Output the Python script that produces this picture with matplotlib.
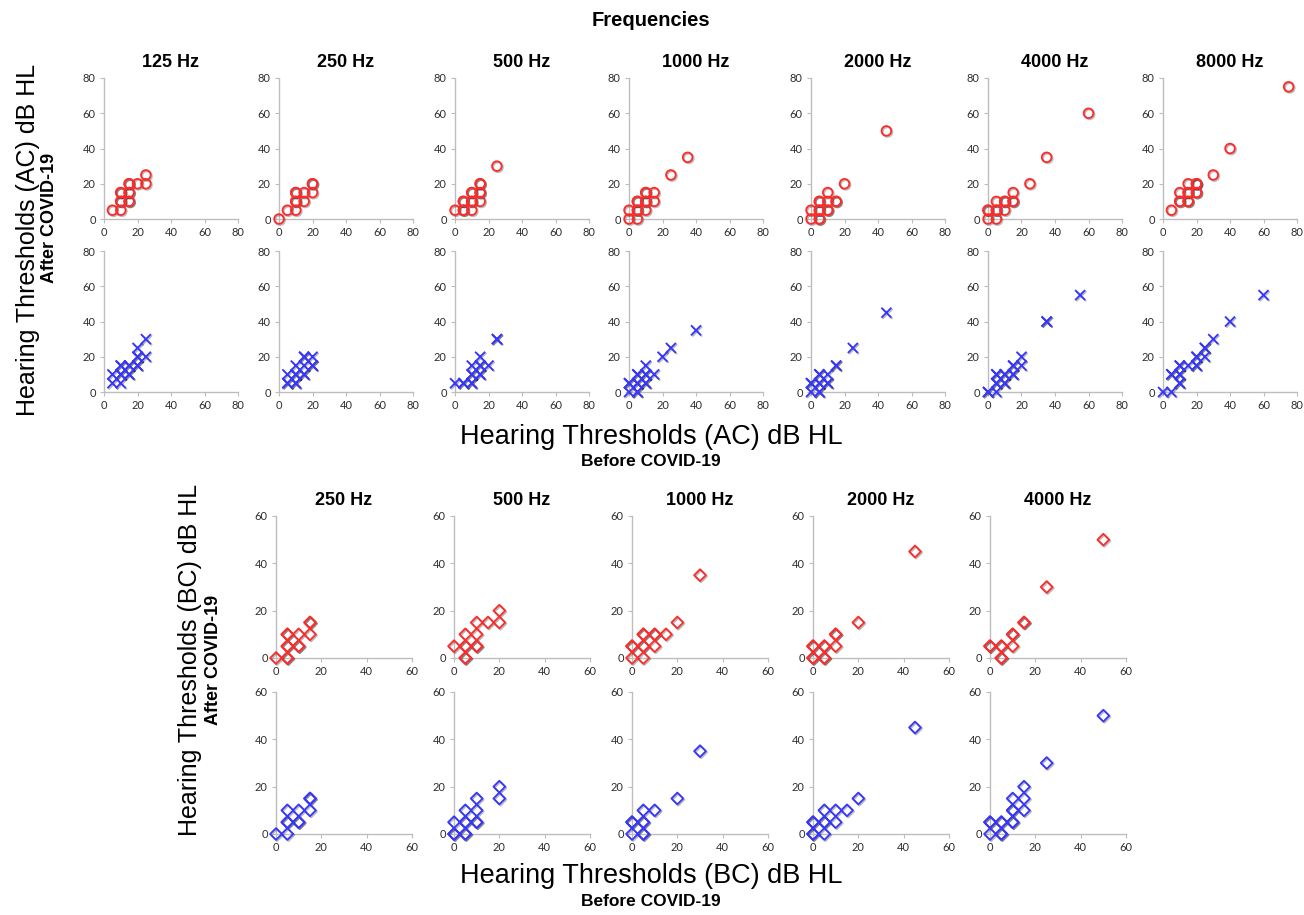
import matplotlib
matplotlib.use('Agg')
import matplotlib.pyplot as plt
from matplotlib import patheffects as pe

# ---------------- data: (before, after) pairs, dB HL ----------------
ac_freqs = ['125 Hz', '250 Hz', '500 Hz', '1000 Hz', '2000 Hz', '4000 Hz', '8000 Hz']
bc_freqs = ['250 Hz', '500 Hz', '1000 Hz', '2000 Hz', '4000 Hz']
ac_ticks = [0, 20, 40, 60, 80]
bc_ticks = [0, 20, 40, 60]

# air conduction, right ear (red circles)
ac_right_125 = [(5, 5), (10, 5), (10, 10), (10, 10), (10, 15), (10, 15), (15, 10), (15, 10), (15, 15), (15, 15),
                (15, 20), (15, 20), (20, 20), (25, 20), (25, 25)]
ac_right_250 = [(0, 0), (5, 5), (10, 5), (10, 10), (10, 10), (10, 15), (10, 15), (15, 10), (15, 15), (20, 15),
                (20, 20), (20, 20)]
ac_right_500 = [(0, 5), (5, 5), (5, 5), (5, 10), (5, 10), (10, 5), (10, 10), (10, 10), (10, 15), (10, 15),
                (15, 10), (15, 15), (15, 15), (15, 20), (15, 20), (25, 30)]
ac_right_1000 = [(0, 0), (0, 5), (5, 0), (5, 5), (5, 5), (5, 10), (5, 10), (10, 5), (10, 10), (10, 10),
                 (10, 15), (10, 15), (15, 10), (15, 15), (25, 25), (35, 35)]
ac_right_2000 = [(0, 0), (0, 5), (5, 0), (5, 0), (5, 5), (5, 5), (5, 10), (5, 10), (10, 5), (10, 5),
                 (10, 10), (10, 15), (15, 10), (15, 10), (20, 20), (45, 50)]
ac_right_4000 = [(0, 0), (0, 5), (0, 5), (5, 0), (5, 5), (5, 5), (5, 10), (10, 5), (10, 10), (10, 10),
                 (15, 10), (15, 10), (15, 15), (25, 20), (35, 35), (60, 60)]
ac_right_8000 = [(5, 5), (10, 10), (10, 10), (10, 15), (15, 10), (15, 10), (15, 15), (15, 15), (15, 20),
                 (20, 15), (20, 15), (20, 20), (20, 20), (20, 20), (30, 25), (40, 40), (75, 75)]

# air conduction, left ear (blue crosses)
ac_left_125 = [(5, 5), (5, 10), (10, 5), (10, 10), (10, 10), (10, 15), (10, 15), (15, 10), (15, 10), (15, 15),
               (15, 15), (20, 15), (20, 15), (20, 20), (20, 20), (20, 25), (25, 20), (25, 30)]
ac_left_250 = [(5, 5), (5, 5), (5, 10), (10, 5), (10, 5), (10, 10), (10, 10), (10, 15), (15, 10), (15, 10),
               (15, 15), (15, 20), (15, 20), (20, 15), (20, 15), (20, 20)]
ac_left_500 = [(0, 5), (5, 5), (5, 5), (10, 5), (10, 5), (10, 10), (10, 10), (10, 15), (15, 10), (15, 10),
               (15, 15), (15, 15), (15, 20), (20, 15), (25, 30), (25, 30)]
ac_left_1000 = [(0, 0), (0, 5), (0, 5), (5, 0), (5, 0), (5, 5), (5, 5), (5, 10), (5, 10), (10, 5), (10, 5),
                (10, 10), (10, 10), (10, 15), (15, 10), (20, 20), (25, 25), (40, 35)]
ac_left_2000 = [(0, 0), (0, 5), (0, 5), (5, 0), (5, 0), (5, 5), (5, 5), (5, 10), (5, 10), (10, 5), (10, 5),
                (10, 10), (15, 15), (15, 15), (25, 25), (45, 45)]
ac_left_4000 = [(0, 0), (0, 0), (5, 0), (5, 5), (5, 5), (5, 10), (5, 10), (10, 5), (10, 5), (10, 10),
                (10, 10), (15, 10), (15, 10), (15, 15), (15, 15), (20, 15), (20, 20), (35, 40), (35, 40), (55, 55)]
ac_left_8000 = [(0, 0), (5, 0), (5, 10), (5, 10), (10, 5), (10, 5), (10, 10), (10, 10), (10, 15), (10, 15),
                (15, 15), (20, 15), (20, 15), (20, 20), (20, 20), (25, 20), (25, 25), (25, 25), (30, 30),
                (40, 40), (60, 55)]

# bone conduction, right ear (red diamonds)
bc_right_250 = [(0, 0), (5, 0), (5, 0), (5, 5), (5, 5), (5, 10), (5, 10), (10, 5), (10, 5), (10, 10),
                (15, 10), (15, 15), (15, 15)]
bc_right_500 = [(0, 5), (5, 0), (5, 0), (5, 5), (5, 5), (5, 10), (10, 5), (10, 5), (10, 10), (10, 15),
                (15, 15), (20, 15), (20, 20)]
bc_right_1000 = [(0, 0), (0, 5), (0, 5), (5, 0), (5, 5), (5, 5), (5, 10), (5, 10), (10, 5), (10, 10),
                 (10, 10), (15, 10), (20, 15), (30, 35)]
bc_right_2000 = [(0, 0), (0, 0), (0, 5), (0, 5), (5, 0), (5, 0), (5, 5), (5, 5), (10, 5), (10, 10),
                 (10, 10), (20, 15), (45, 45)]
bc_right_4000 = [(0, 5), (0, 5), (5, 0), (5, 0), (5, 5), (5, 5), (10, 5), (10, 10), (10, 10), (15, 15),
                 (15, 15), (25, 30), (50, 50)]

# bone conduction, left ear (blue diamonds)
bc_left_250 = [(0, 0), (5, 0), (5, 5), (5, 5), (5, 10), (10, 5), (10, 5), (10, 10), (15, 10), (15, 15), (15, 15)]
bc_left_500 = [(0, 0), (0, 0), (0, 5), (5, 0), (5, 0), (5, 5), (5, 5), (5, 10), (10, 5), (10, 5), (10, 10),
               (10, 15), (20, 15), (20, 20)]
bc_left_1000 = [(0, 0), (0, 5), (0, 5), (5, 0), (5, 0), (5, 5), (5, 5), (5, 10), (10, 10), (20, 15), (30, 35)]
bc_left_2000 = [(0, 0), (0, 0), (0, 5), (0, 5), (5, 0), (5, 5), (5, 5), (5, 10), (10, 5), (10, 10), (15, 10),
                (20, 15), (45, 45)]
bc_left_4000 = [(0, 0), (0, 5), (0, 5), (5, 0), (5, 0), (5, 5), (5, 5), (10, 5), (10, 5), (10, 10), (10, 10),
                (10, 15), (15, 10), (15, 15), (15, 20), (25, 30), (50, 50)]

ac_right = [ac_right_125, ac_right_250, ac_right_500, ac_right_1000, ac_right_2000, ac_right_4000, ac_right_8000]
ac_left = [ac_left_125, ac_left_250, ac_left_500, ac_left_1000, ac_left_2000, ac_left_4000, ac_left_8000]
bc_right = [bc_right_250, bc_right_500, bc_right_1000, bc_right_2000, bc_right_4000]
bc_left = [bc_left_250, bc_left_500, bc_left_1000, bc_left_2000, bc_left_4000]

# ---------------- figure ----------------
W, H = 1304, 915
fig = plt.figure(figsize=(W / 100, H / 100), dpi=100)
fig.patch.set_facecolor('white')

RED = '#ff2a2a'
BLUE = '#3535ff'
SPINE = '#bdbdbd'
TICKLBL = '#2e2e2e'
TITLE_FONT = ['Liberation Sans', 'DejaVu Sans']
TICK_FONT = ['Lato', 'DejaVu Sans']

shadow = [pe.SimpleLineShadow(offset=(0.8, -0.8), shadow_color='black', alpha=0.28, linewidth=1.4), pe.Normal()]


def add_panel(left, top, w, h):
    return fig.add_axes([left / W, 1 - (top + h) / H, w / W, h / H])


def style(ax, ticks):
    lim = ticks[-1]
    ax.set_xlim(0, lim)
    ax.set_ylim(0, lim)
    ax.set_xticks(ticks)
    ax.set_yticks(ticks)
    for s in ['top', 'right']:
        ax.spines[s].set_visible(False)
    for s in ['left', 'bottom']:
        ax.spines[s].set_color(SPINE)
        ax.spines[s].set_linewidth(1.0)
    ax.tick_params(direction='out', length=3, width=0.8, color=SPINE, labelsize=8,
                   labelcolor=TICKLBL, pad=3)
    for lbl in ax.get_xticklabels() + ax.get_yticklabels():
        lbl.set_family(TICK_FONT)
    ax.set_facecolor('none')


def draw(ax, pts, color, marker, size, lw):
    xs = [p[0] for p in pts]
    ys = [p[1] for p in pts]
    ax.scatter(xs, ys, s=size, marker=marker, facecolors='none' if marker != 'x' else color,
               edgecolors=color, linewidths=lw, clip_on=False, zorder=3, path_effects=shadow)


# AC panels
ac_lefts = [104, 279, 455, 629, 811, 988, 1163]
for i, f in enumerate(ac_freqs):
    ax1 = add_panel(ac_lefts[i], 78, 134, 141)
    style(ax1, ac_ticks)
    draw(ax1, ac_right[i], RED, 'o', 48, 1.3)
    ax1.set_title(f, fontsize=13, fontweight='bold', family=TITLE_FONT, pad=8)
    ax2 = add_panel(ac_lefts[i], 251, 134, 141)
    style(ax2, ac_ticks)
    draw(ax2, ac_left[i], BLUE, 'x', 52, 1.3)

# BC panels
bc_lefts = [276, 454, 632, 813, 990]
for i, f in enumerate(bc_freqs):
    ax1 = add_panel(bc_lefts[i], 516, 136, 142)
    style(ax1, bc_ticks)
    draw(ax1, bc_right[i], RED, 'D', 36, 1.3)
    ax1.set_title(f, fontsize=13, fontweight='bold', family=TITLE_FONT, pad=8)
    ax2 = add_panel(bc_lefts[i], 692, 136, 142)
    style(ax2, bc_ticks)
    draw(ax2, bc_left[i], BLUE, 'D', 36, 1.3)


def ftext(x, y, s, **kw):
    fig.text(x / W, 1 - y / H, s, ha='center', va='center', family=TITLE_FONT, **kw)


ftext(651, 20, 'Frequencies', fontsize=14.5, fontweight='bold')
ftext(651, 437, 'Hearing Thresholds (AC) dB HL', fontsize=19.5)
ftext(651, 461, 'Before COVID-19', fontsize=12.5, fontweight='bold')
ftext(28, 240, 'Hearing Thresholds (AC) dB HL', fontsize=18, rotation=90)
ftext(50, 218, 'After COVID-19', fontsize=13, fontweight='bold', rotation=90)

ftext(651, 876, 'Hearing Thresholds (BC) dB HL', fontsize=19.5)
ftext(651, 902, 'Before COVID-19', fontsize=12.5, fontweight='bold')
ftext(190, 660, 'Hearing Thresholds (BC) dB HL', fontsize=18, rotation=90)
ftext(214, 660, 'After COVID-19', fontsize=13, fontweight='bold', rotation=90)

fig.savefig('out.png', dpi=100, facecolor='white')
